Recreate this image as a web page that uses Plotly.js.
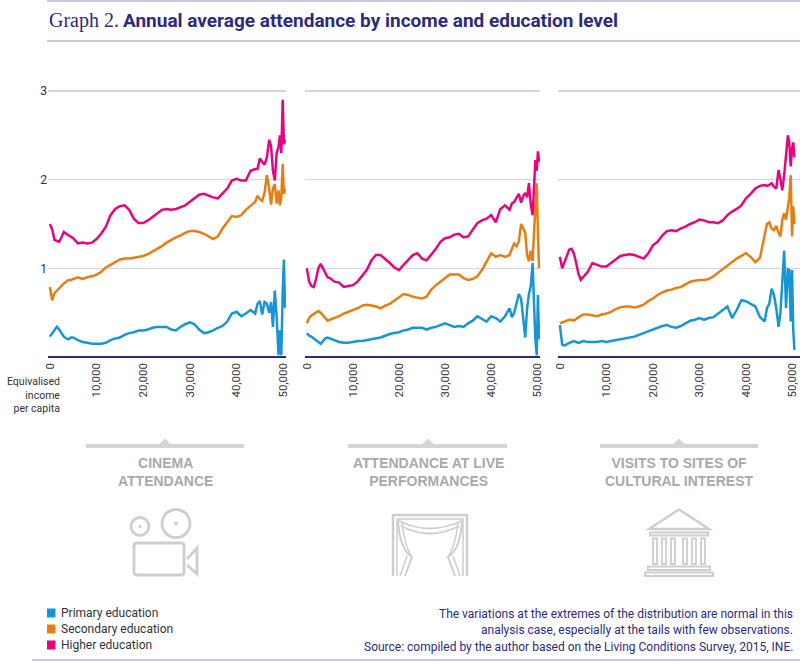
<!DOCTYPE html>
<html>
<head>
<meta charset="utf-8">
<script src="https://cdn.plot.ly/plotly-3.0.1.min.js"></script>
<style>
  html, body { margin: 0; padding: 0; background: #fff; }
  #plot { width: 800px; height: 664px; }
</style>
</head>
<body>
<div id="plot"></div>
<script>
// income points (equivalised income per capita, euros)
const income = [0, 500, 1000, 1500, 2000, 2500, 3000, 3500, 4000, 4500, 5000,
  6000, 7000, 8000, 9000, 10000, 11000, 12000, 13000, 14000, 15000, 16000, 17000, 18000, 19000,
  20000, 21000, 22000, 23000, 24000, 25000, 26000, 27000, 28000, 29000, 30000, 31000, 32000, 33000,
  34000, 35000, 36000, 37000, 38000, 39000, 40000, 41000, 42000, 43000,
  44000, 44500, 45000, 45500, 46000, 46500, 47000, 47400, 47800, 48200, 48600, 49000, 49300, 49600,
  49900, 50150, 50400];

// cinema attendance
const cinemaPrimary = [0.23, 0.27, 0.31, 0.34, 0.31, 0.27, 0.23, 0.21, 0.20, 0.22, 0.22,
  0.19, 0.17, 0.16, 0.15, 0.15, 0.15, 0.16, 0.19, 0.21, 0.22, 0.25, 0.27, 0.28, 0.30,
  0.30, 0.31, 0.33, 0.34, 0.34, 0.34, 0.31, 0.30, 0.34, 0.37, 0.39, 0.37, 0.31, 0.27,
  0.28, 0.30, 0.33, 0.35, 0.40, 0.49, 0.51, 0.46, 0.49, 0.53,
  0.49, 0.60, 0.63, 0.48, 0.62, 0.60, 0.50, 0.62, 0.34, 0.75, 0.45, 0.02, 0.30, 0.02,
  0.75, 1.10, 0.55];
const cinemaSecondary = [0.79, 0.64, 0.72, 0.75, 0.78, 0.80, 0.83, 0.85, 0.87, 0.87, 0.88,
  0.90, 0.88, 0.90, 0.91, 0.93, 0.96, 1.01, 1.04, 1.07, 1.10, 1.11, 1.11, 1.12, 1.13,
  1.14, 1.16, 1.19, 1.22, 1.25, 1.29, 1.32, 1.35, 1.37, 1.40, 1.42, 1.42, 1.41, 1.39,
  1.36, 1.33, 1.36, 1.45, 1.52, 1.59, 1.58, 1.60, 1.66, 1.70,
  1.75, 1.82, 1.78, 1.76, 1.85, 2.05, 1.90, 1.72, 1.90, 1.95, 1.73, 1.88, 1.71, 1.80,
  2.18, 1.84, 1.90];
const cinemaHigher = [1.50, 1.44, 1.32, 1.31, 1.30, 1.35, 1.41, 1.39, 1.37, 1.36, 1.34,
  1.28, 1.29, 1.28, 1.29, 1.33, 1.39, 1.47, 1.60, 1.67, 1.70, 1.71, 1.66, 1.56, 1.51,
  1.51, 1.54, 1.58, 1.62, 1.66, 1.67, 1.66, 1.67, 1.69, 1.71, 1.75, 1.79, 1.83, 1.84,
  1.82, 1.80, 1.79, 1.84, 1.90, 1.99, 2.01, 1.99, 1.99, 2.10,
  2.12, 2.12, 2.24, 2.20, 2.17, 2.25, 2.45, 2.38, 2.10, 1.99, 2.30, 2.37, 2.50, 2.30,
  2.90, 2.40, 2.45];

// attendance at live performances
const livePrimary = [0.27, 0.24, 0.23, 0.21, 0.19, 0.16, 0.15, 0.18, 0.21, 0.22, 0.21,
  0.19, 0.17, 0.16, 0.16, 0.17, 0.18, 0.18, 0.19, 0.20, 0.21, 0.22, 0.24, 0.26, 0.27,
  0.28, 0.30, 0.31, 0.33, 0.33, 0.33, 0.31, 0.33, 0.34, 0.36, 0.38, 0.36, 0.34, 0.35,
  0.34, 0.38, 0.41, 0.46, 0.43, 0.40, 0.46, 0.44, 0.40, 0.46,
  0.55, 0.45, 0.50, 0.60, 0.71, 0.66, 0.45, 0.22, 0.55, 0.71, 0.80, 1.06, 0.60, 0.20,
  0.02, 0.70, 0.20];
const liveSecondary = [0.38, 0.44, 0.47, 0.49, 0.51, 0.52, 0.50, 0.47, 0.44, 0.41, 0.42,
  0.44, 0.46, 0.49, 0.51, 0.53, 0.55, 0.58, 0.59, 0.58, 0.57, 0.55, 0.58, 0.60, 0.64,
  0.67, 0.71, 0.70, 0.68, 0.67, 0.66, 0.68, 0.76, 0.81, 0.85, 0.90, 0.93, 0.93, 0.93,
  0.89, 0.87, 0.88, 0.91, 0.98, 1.07, 1.17, 1.13, 1.15, 1.13,
  1.15, 1.22, 1.28, 1.25, 1.30, 1.50, 1.45, 1.40, 1.15, 1.08, 1.20, 1.08, 1.40, 1.70,
  1.96, 1.40, 1.00];
const liveHigher = [1.00, 0.85, 0.80, 0.79, 0.88, 1.00, 1.05, 1.00, 0.94, 0.90, 0.89,
  0.85, 0.84, 0.79, 0.80, 0.81, 0.85, 0.91, 0.98, 1.09, 1.15, 1.15, 1.11, 1.06, 1.01,
  0.98, 1.04, 1.09, 1.15, 1.17, 1.11, 1.09, 1.15, 1.22, 1.30, 1.34, 1.35, 1.38, 1.39,
  1.35, 1.36, 1.43, 1.51, 1.54, 1.56, 1.60, 1.52, 1.67, 1.71,
  1.66, 1.73, 1.75, 1.80, 1.84, 1.74, 1.82, 1.85, 1.80, 1.96, 1.72, 1.60, 1.90, 2.22,
  2.10, 2.32, 2.20];

// visits to sites of cultural interest
const sitesPrimary = [0.36, 0.14, 0.13, 0.15, 0.16, 0.17, 0.18, 0.17, 0.16, 0.17, 0.18,
  0.17, 0.17, 0.17, 0.18, 0.17, 0.18, 0.19, 0.20, 0.21, 0.22, 0.23, 0.25, 0.27, 0.29,
  0.31, 0.33, 0.35, 0.36, 0.34, 0.33, 0.35, 0.38, 0.41, 0.42, 0.44, 0.42, 0.44, 0.45,
  0.49, 0.53, 0.57, 0.44, 0.53, 0.64, 0.63, 0.60, 0.57, 0.45,
  0.40, 0.55, 0.60, 0.77, 0.70, 0.55, 0.34, 0.50, 0.80, 1.20, 0.55, 0.99, 0.98, 0.40,
  0.98, 0.30, 0.08];
const sitesSecondary = [0.38, 0.39, 0.40, 0.41, 0.42, 0.42, 0.41, 0.43, 0.45, 0.47, 0.48,
  0.48, 0.47, 0.46, 0.48, 0.49, 0.51, 0.54, 0.56, 0.57, 0.57, 0.56, 0.57, 0.59, 0.63,
  0.66, 0.70, 0.73, 0.75, 0.76, 0.78, 0.79, 0.82, 0.85, 0.86, 0.87, 0.87, 0.88, 0.91,
  0.95, 1.00, 1.04, 1.07, 1.11, 1.14, 1.17, 1.13, 1.07, 1.12,
  1.40, 1.50, 1.52, 1.45, 1.43, 1.48, 1.40, 1.36, 1.55, 1.62, 1.55, 1.69, 1.80, 2.05,
  1.36, 1.70, 1.50];
const sitesHigher = [1.13, 1.00, 1.07, 1.15, 1.21, 1.22, 1.17, 1.06, 0.94, 0.87, 0.90,
  0.96, 1.06, 1.04, 1.02, 1.02, 1.06, 1.09, 1.14, 1.15, 1.16, 1.15, 1.13, 1.11, 1.17,
  1.26, 1.30, 1.37, 1.42, 1.43, 1.42, 1.45, 1.47, 1.50, 1.52, 1.55, 1.54, 1.52, 1.52,
  1.51, 1.54, 1.60, 1.64, 1.67, 1.71, 1.79, 1.84, 1.90, 1.93,
  1.94, 1.93, 1.94, 1.96, 1.92, 1.90, 2.11, 2.00, 1.88, 2.05, 2.25, 2.50, 2.42, 2.15,
  2.35, 2.42, 2.25];

const incomeTicks = [0, 10000, 20000, 30000, 40000, 50000];
const incomeTickText = ["0", "10,000", "20,000", "30,000", "40,000", "50,000"];
const levelTicks = [1, 2, 3];

const seriesNames = ["Primary education", "Secondary education", "Higher education"];
const seriesColors = ["#1796d5", "#e57e13", "#e5067f"];
const panelTitles = [["CINEMA", "ATTENDANCE"], ["ATTENDANCE AT LIVE", "PERFORMANCES"],
  ["VISITS TO SITES OF", "CULTURAL INTEREST"]];
const notes = [
  "The variations at the extremes of the distribution are normal in this",
  "analysis case, especially at the tails with few observations.",
  "Source: compiled by the author based on the Living Conditions Survey, 2015, INE."
];

// page is 800x664 with zero margins, so paper coords map straight to pixels
const W = 800, H = 664;
const fx = px => px / W;
const fy = py => 1 - py / H;

const NAVY = "#2e2a7c";
const RULE = "#b9b6d4";
const BARGRAY = "#d5d5d5";
const ICON = "#cecece";
const SANS = "Roboto, Liberation Sans, sans-serif";

const panels = [
  {data: [cinemaPrimary, cinemaSecondary, cinemaHigher], px: [48, 286], range: [-400, 50600], mid: 165, bar: [86, 244]},
  {data: [livePrimary, liveSecondary, liveHigher], px: [305, 540], range: [-400, 50600], mid: 428, bar: [348, 507]},
  {data: [sitesPrimary, sitesSecondary, sitesHigher], px: [558, 800], range: [-400, 51600], mid: 679, bar: [600, 758]}
];

const yDomain = [fy(359.7), fy(88.3)];

const traces = [];
const layout = {
  width: W, height: H,
  margin: {l: 0, r: 0, t: 0, b: 0},
  paper_bgcolor: "#fff",
  plot_bgcolor: "rgba(0,0,0,0)",
  showlegend: false,
  shapes: [],
  annotations: []
};

panels.forEach((p, i) => {
  const n = i === 0 ? "" : String(i + 1);
  p.data.forEach((vals, k) => {
    traces.push({
      type: "scatter", mode: "lines",
      x: income, y: vals,
      xaxis: "x" + n, yaxis: "y" + n,
      name: seriesNames[k],
      line: {color: seriesColors[k], width: 2.5},
      hoverinfo: "skip"
    });
  });
  layout["xaxis" + n] = {
    domain: [fx(p.px[0]), fx(p.px[1])],
    range: p.range,
    anchor: "y" + n,
    showgrid: false, zeroline: false, showline: false,
    tickmode: "array", tickvals: incomeTicks, ticktext: incomeTickText,
    tickangle: -90, ticks: "",
    ticklabeloverflow: "allow",
    tickfont: {family: SANS, size: 11.5, color: "#333"},
    fixedrange: true
  };
  layout["yaxis" + n] = {
    domain: yDomain,
    range: [-0.03, 3.03],
    anchor: "x" + n,
    showgrid: true, gridcolor: "#d5d4e4", gridwidth: 1.5,
    zeroline: true, zerolinecolor: "#2b2a7a", zerolinewidth: 2,
    showline: false,
    tickmode: "array", tickvals: levelTicks,
    showticklabels: i === 0, ticks: "",
    tickfont: {family: SANS, size: 12, color: "#333"},
    fixedrange: true
  };
});

// helpers for decorative shapes in pixel terms
function lineShape(x0, y0, x1, y1, color, width) {
  return {type: "line", xref: "paper", yref: "paper", x0: fx(x0), y0: fy(y0), x1: fx(x1), y1: fy(y1),
    line: {color: color, width: width}};
}
function rectShape(x0, y0, x1, y1, stroke, fill, width) {
  return {type: "rect", xref: "paper", yref: "paper", x0: fx(x0), y0: fy(y0), x1: fx(x1), y1: fy(y1),
    line: {color: stroke, width: width || 0}, fillcolor: fill || "rgba(0,0,0,0)"};
}
function circleShape(cx, cy, r, stroke, fill, width) {
  return {type: "circle", xref: "paper", yref: "paper", x0: fx(cx - r), y0: fy(cy + r), x1: fx(cx + r), y1: fy(cy - r),
    line: {color: stroke, width: width || 0}, fillcolor: fill || "rgba(0,0,0,0)"};
}
function pathShape(d, stroke, fill, width) {
  // d uses pixel coords: letters followed by x y pairs
  let isX = true;
  const out = d.trim().split(/\s+/).map(tok => {
    if (/^[A-Za-z]$/.test(tok)) return tok;
    const v = isX ? fx(+tok) : fy(+tok);
    isX = !isX;
    return v.toFixed(5);
  }).join(" ");
  return {type: "path", xref: "paper", yref: "paper", path: out,
    line: {color: stroke, width: width || 0}, fillcolor: fill || "rgba(0,0,0,0)"};
}
function text(x, y, str, opts) {
  return Object.assign({
    xref: "paper", yref: "paper", x: fx(x), y: fy(y), text: str, showarrow: false,
    xanchor: "left", yanchor: "middle",
    font: {family: SANS, size: 12, color: "#333"}
  }, opts || {});
}

const S = layout.shapes, A = layout.annotations;

// rules
S.push(lineShape(47, 1, 800, 1, RULE, 1.5));
S.push(lineShape(47, 41, 800, 41, RULE, 1.5));
S.push(lineShape(32, 660, 800, 660, RULE, 1.5));

// title
A.push(text(47, 20, "Graph 2.", {font: {family: "Liberation Serif, DejaVu Serif, serif", size: 20, color: NAVY}}));
A.push(text(121, 20, "<b>Annual average attendance by income and education level</b>",
  {font: {family: SANS, size: 19, color: NAVY}}));

// x-axis caption
A.push(text(62, 395, "Equivalised<br>income<br>per capita",
  {xanchor: "right", align: "right", font: {family: SANS, size: 10.5, color: "#333"}}));

// panel captions with notch bars
panels.forEach((p, i) => {
  S.push(rectShape(p.bar[0], 444, p.bar[1], 448, BARGRAY, BARGRAY, 0));
  S.push(pathShape(`M ${p.mid - 6} 444.5 L ${p.mid} 438.5 L ${p.mid + 6} 444.5 Z`, BARGRAY, BARGRAY, 0));
  A.push(text(p.mid, 472, "<b>" + panelTitles[i][0] + "<br>" + panelTitles[i][1] + "</b>",
    {xanchor: "center", align: "center", font: {family: "Liberation Sans, Arial, sans-serif", size: 14, color: "#a9a9a9"}}));
});

// camera icon
S.push(circleShape(140, 526.5, 9, ICON, null, 2.8));
S.push(circleShape(176, 523.5, 14, ICON, null, 2.8));
S.push(circleShape(140, 526.5, 1.6, ICON, ICON, 0));
S.push(circleShape(176, 523.5, 2, ICON, ICON, 0));
S.push(pathShape("M 137 543 L 181 543 Q 184 543 184 546 L 184 572 Q 184 575 181 575 L 137 575 Q 134 575 134 572 L 134 546 Q 134 543 137 543 Z", ICON, null, 2.8));
S.push(pathShape("M 187 559 L 197 548 L 197 574 L 187 565", ICON, null, 2.8));

// stage curtain icon
S.push(pathShape("M 393 576 L 393 515 L 467 515 L 467 576", ICON, null, 2.5));
S.push(pathShape("M 397 576 L 397 519 L 463 519 L 463 576", ICON, null, 1.5));
S.push(pathShape("M 399 521 Q 430 536 461 521", ICON, null, 1.8));
S.push(pathShape("M 401 526 Q 430 541 459 526", ICON, null, 1.8));
S.push(pathShape("M 398 520 C 399 540 404 552 412 557 L 405 576", ICON, null, 2));
S.push(pathShape("M 402 522 C 404 540 407 550 412 557", ICON, null, 1.5));
S.push(pathShape("M 407 556 L 400 576", ICON, null, 1.5));
S.push(pathShape("M 462 520 C 461 540 456 552 448 557 L 455 576", ICON, null, 2));
S.push(pathShape("M 458 522 C 456 540 453 550 448 557", ICON, null, 1.5));
S.push(pathShape("M 453 556 L 460 576", ICON, null, 1.5));

// temple icon
S.push(pathShape("M 649 529 L 679 509.5 L 709 529 Z", ICON, null, 2.5));
S.push(rectShape(650, 532.5, 708, 535.5, ICON, null, 2));
[653, 662, 671, 683, 692, 701].forEach(cx => S.push(rectShape(cx, 538.5, cx + 4, 564, ICON, null, 1.8)));
S.push(rectShape(648, 566.5, 710, 570, ICON, null, 2));
S.push(rectShape(645, 572.5, 713, 576, ICON, null, 2));

// legend
const legendY = [613, 629, 645];
seriesNames.forEach((name, k) => {
  S.push(rectShape(47, legendY[k] - 4.5, 55.5, legendY[k] + 4.5, seriesColors[k], seriesColors[k], 0));
  A.push(text(59, legendY[k], name, {font: {family: SANS, size: 12, color: "#333"}}));
});

// notes
const noteY = [614, 630, 647];
notes.forEach((t, k) => A.push(text(795, noteY[k], t, {xanchor: "right", font: {family: SANS, size: 12, color: NAVY}})));

Plotly.newPlot("plot", traces, layout, {displayModeBar: false, staticPlot: true});
</script>
</body>
</html>
